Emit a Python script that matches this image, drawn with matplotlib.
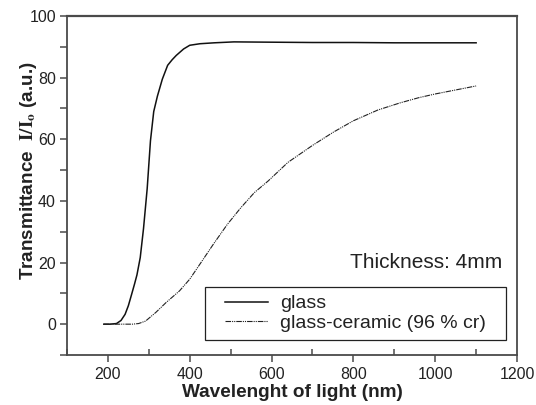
import matplotlib
matplotlib.use("Agg")
import matplotlib.pyplot as plt
from matplotlib.ticker import MultipleLocator
from matplotlib.patches import Rectangle

plt.rcParams['font.family'] = ['Liberation Sans', 'DejaVu Sans']
plt.rcParams['mathtext.fontset'] = 'stix'

# Data
glass_wl = [190, 205, 221, 232, 242, 250, 258, 265, 271, 279, 287, 296, 304, 312, 321,
            333, 346, 357, 367, 385, 400, 425, 460, 508, 600, 700, 800, 900, 1000, 1100]
glass_T = [0.0, 0.0, 0.2, 1.2, 3.2, 6.0, 9.7, 13.0, 16.0, 21.6, 31.0, 44.0, 59.5, 69.0, 74.0,
           79.5, 84.0, 85.8, 87.2, 89.3, 90.5, 91.0, 91.3, 91.6, 91.5, 91.4, 91.4, 91.3, 91.3, 91.3]

cer_wl = [190, 230, 260, 275, 292, 317, 342, 375, 400, 425, 458, 492, 525, 558, 592,
          640, 700, 751, 800, 860, 914, 960, 1000, 1050, 1100]
cer_T = [0.0, 0.0, 0.0, 0.2, 1.0, 3.8, 7.0, 10.8, 14.6, 19.5, 26.0, 32.4, 37.8, 42.7, 46.5,
         52.5, 58.0, 62.3, 66.0, 69.5, 71.8, 73.5, 74.7, 76.0, 77.3]

xticks = [200, 400, 600, 800, 1000, 1200]
yticks = [0, 20, 40, 60, 80, 100]

fig = plt.figure(figsize=(5.36, 4.05), dpi=100)
ax = fig.add_axes([0.125, 0.1235, 0.8396, 0.837])

ax.plot(glass_wl, glass_T, color='#111111', lw=1.1, label='glass')
ax.plot(cer_wl, cer_T, color='#222222', lw=0.8, linestyle=(0, (5, 0.9, 1, 0.9, 1, 0.9)),
        label='glass-ceramic (96 % cr)')

ax.set_xlim(100, 1200)
ax.set_ylim(-10, 100)
ax.set_xticks(xticks)
ax.set_yticks(yticks)
ax.xaxis.set_minor_locator(MultipleLocator(100))
ax.yaxis.set_minor_locator(MultipleLocator(10))

spine_c = '#4a4a4a'
for s in ax.spines.values():
    s.set_color(spine_c)
    s.set_linewidth(1.3)
ax.spines['top'].set_linewidth(1.6)

ax.tick_params(axis='both', which='both', color=spine_c, width=1.1, labelsize=11.5, labelcolor='#222222')
ax.tick_params(axis='x', which='major', direction='out', length=5, pad=4)
ax.tick_params(axis='x', which='minor', direction='in', length=4)
ax.tick_params(axis='y', which='both', direction='out', length=5, pad=3)

ax.set_xlabel('Wavelenght of light (nm)', fontsize=13.7, fontweight='bold', color='#222222', labelpad=1)
ax.set_ylabel(r'Transmittance  $\mathbf{I/I_o}$ (a.u.)', fontsize=13.6, fontweight='bold',
              color='#222222')
ax.yaxis.set_label_coords(-0.063, 0.544)

ax.text(0.968, 0.273, 'Thickness: 4mm', transform=ax.transAxes, ha='right', va='center',
        fontsize=15, color='#222222')

# legend frame drawn as a box, legend entries inside
box_x0, box_x1, box_y0, box_y1 = 0.306, 0.976, 0.044, 0.201
ax.add_patch(Rectangle((box_x0, box_y0), box_x1 - box_x0, box_y1 - box_y0, transform=ax.transAxes,
                       fill=False, edgecolor='#222222', linewidth=0.9, zorder=5))
leg = ax.legend(loc='center', bbox_to_anchor=((box_x0 + box_x1) / 2, (box_y0 + box_y1) / 2),
                borderaxespad=0, frameon=False, fontsize=14, handlelength=2.2,
                handletextpad=0.6, borderpad=0.0, labelspacing=0.1)
for t in leg.get_texts():
    t.set_color('#222222')

fig.savefig('out.png', dpi=100)
